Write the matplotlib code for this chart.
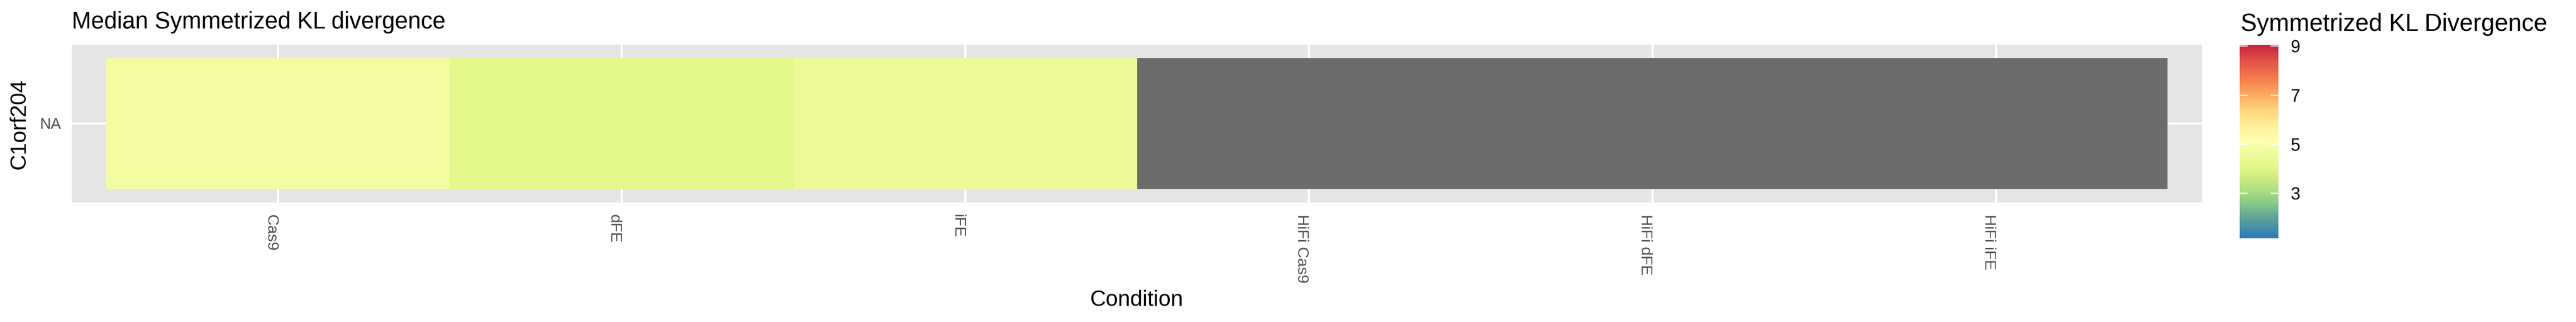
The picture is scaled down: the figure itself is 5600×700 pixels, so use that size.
import numpy as np
import matplotlib
matplotlib.use('Agg')
import matplotlib.pyplot as plt
from matplotlib.colors import LinearSegmentedColormap

plt.rcParams['font.family'] = ['Liberation Sans', 'DejaVu Sans']

# data
conditions = ['Cas9', 'dFE', 'iFE', 'HiFi Cas9', 'HiFi dFE', 'HiFi iFE']
rows = ['NA']
kl_median = [4.75, 4.1, 4.55, np.nan, np.nan, np.nan]
vmin, vmax = 1.17, 9.04
cbar_ticks = [3, 5, 7, 9]

# colour ramp as seen on the reference legend (value, colour)
ramp_vals = [1.17, 2.0, 2.6, 3.0, 3.6, 4.1, 4.75, 5.1, 5.8, 6.4, 7.0, 7.7, 8.4, 9.04]
ramp_cols = ['#2C7BB6', '#5FA39A', '#88C987', '#A6DA7F', '#CBEB80', '#E3F78A',
             '#F3FCA0', '#FEFFB0', '#FEEE98', '#FDD47E', '#FDAC62', '#F57B4B',
             '#E0524A', '#C8243E']
pos = [(v - vmin) / (vmax - vmin) for v in ramp_vals]
cmap = LinearSegmentedColormap.from_list('kl', list(zip(pos, ramp_cols)))
cmap.set_bad('#6C6C6C')

W, H = 5600, 700
fig = plt.figure(figsize=(W / 100, H / 100), dpi=100)

def box(x0, y0, x1, y1):
    # pixel box (top-left origin) -> figure fraction rect
    return [x0 / W, 1 - y1 / H, (x1 - x0) / W, (y1 - y0) / H]

ax = fig.add_axes(box(156, 97, 4787, 440))
ax.set_facecolor('#E5E5E5')

z = np.ma.masked_invalid(np.array([kl_median]))
xe = np.arange(len(conditions) + 1) + 0.5
ye = np.arange(len(rows) + 1) + 0.5
mesh = ax.pcolormesh(xe, ye, z, cmap=cmap, vmin=vmin, vmax=vmax)

ax.set_xlim(0.4, len(conditions) + 0.6)
ax.set_ylim(0.4, len(rows) + 0.6)
ax.set_xticks(np.arange(1, len(conditions) + 1))
ax.set_xticklabels(conditions, rotation=270, ha='right', va='top',
                   fontsize=24.5, color='#4D4D4D')
ax.set_yticks(np.arange(1, len(rows) + 1))
ax.set_yticklabels(rows, fontsize=24, color='#4D4D4D')
ax.tick_params(axis='x', length=0, pad=19)
ax.tick_params(axis='y', length=0, pad=17)
ax.set_axisbelow(True)
ax.grid(True, color='white', linewidth=3.5)
for s in ax.spines.values():
    s.set_visible(False)

fig.text(156 / W, 1 - 62 / H, 'Median Symmetrized KL divergence',
         fontsize=36.5, ha='left', va='baseline')
fig.text(42 / W, 1 - 270 / H, 'C1orf204', fontsize=34.5, rotation=90,
         ha='center', va='center')
fig.text(2471 / W, 1 - 665 / H, 'Condition', fontsize=34.5,
         ha='center', va='baseline')

# colour bar
cax = fig.add_axes(box(4869, 98, 4953, 518))
cb = fig.colorbar(mesh, cax=cax, ticks=cbar_ticks)
cb.outline.set_visible(False)
cax.tick_params(axis='y', direction='in', left=True, right=True, length=12,
                width=1.5, color='white', labelsize=27, pad=19)
fig.text(4871 / W, 1 - 67 / H, 'Symmetrized KL Divergence', fontsize=38,
         ha='left', va='baseline')

fig.savefig('out.png', dpi=100)
